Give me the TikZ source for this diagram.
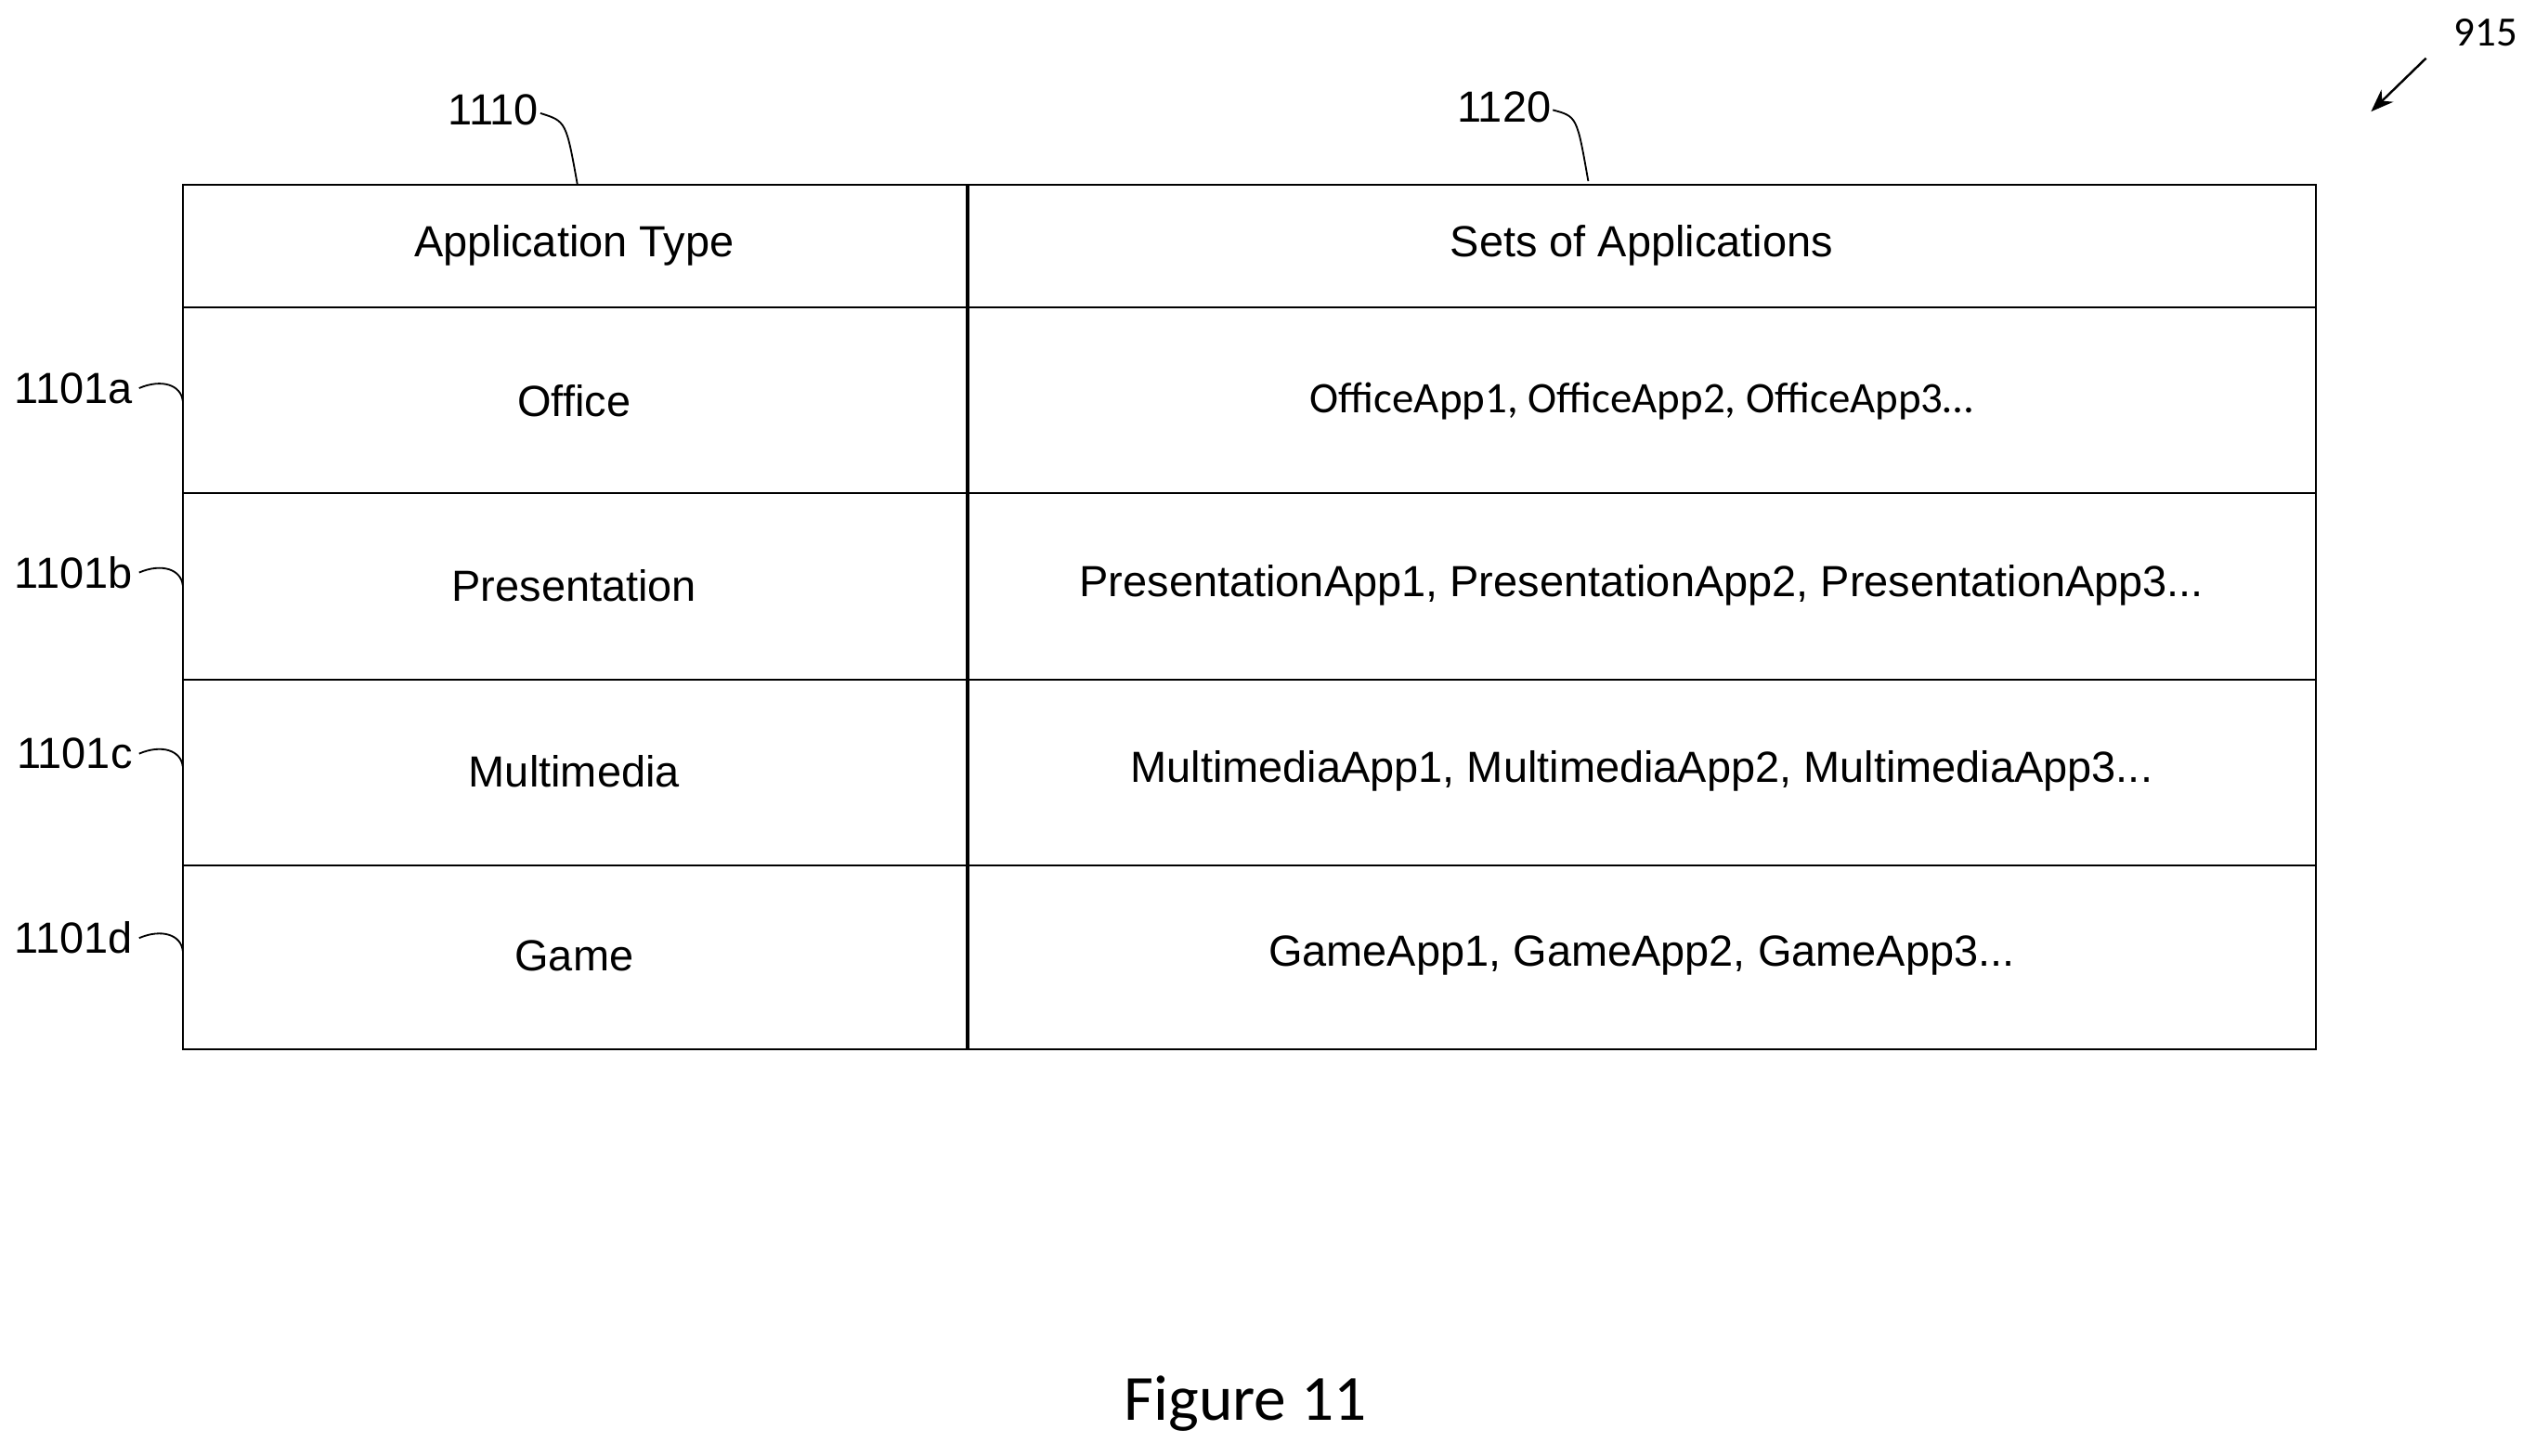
\documentclass[tikz,border=0pt]{standalone}
\usepackage{fontspec}
\setmainfont{Liberation Sans}
\newfontfamily\carlitofont{Carlito}
\usetikzlibrary{arrows.meta}
\begin{document}
\begin{tikzpicture}[x=0.3mm,y=-0.3mm,
  cell/.style={font=\fontsize{23}{26}\selectfont},
  lbl/.style={font=\fontsize{23}{26}\selectfont},
  lead/.style={line width=0.9pt}]
\useasboundingbox (0,0) rectangle (1568,900);
\draw[line width=1pt] (113,114) rectangle (1432,649);
\foreach \y in {190,305,420,535} \draw[line width=1pt] (113,\y) -- (1432,\y);
\draw[line width=2pt] (598,114) -- (598,649);
\node[cell] (h1) at (355,152) {Application Type};
\node[cell] (h2) at (1015,152) {Sets of Applications};
\node[cell] (r1) at (355,248) {Office};
\node[cell,font=\carlitofont\fontsize{23}{26}\selectfont] (s1) at (1015,248) {OfficeApp1, OfficeApp2, OfficeApp3…};
\node[cell] (r2) at (355,362) {Presentation};
\node[cell] (s2) at (1015,362) {PresentationApp1, PresentationApp2, PresentationApp3...};
\node[cell] (r3) at (355,477) {Multimedia};
\node[cell] (s3) at (1015,477) {MultimediaApp1, MultimediaApp2, MultimediaApp3...};
\node[cell] (r4) at (355,591) {Game};
\node[cell] (s4) at (1015,591) {GameApp1, GameApp2, GameApp3...};
\node[lbl] (l1110) at (305,68) {1110};
\node[lbl] (l1120) at (930,66) {1120};
\coordinate (c1110) at (357,114);
\coordinate (c1120) at (982,112);
\draw[lead] (l1110.east) ++(-3,2) .. controls (350,75) .. (c1110);
\draw[lead] (l1120.east) ++(-3,2) .. controls (975,72) .. (c1120);
\foreach \n/\y in {a/240,b/354,c/466,d/580}{
  \node[lbl,anchor=east] (l\n) at (86,\y) {1101\n};
  \coordinate (e\n) at (113,\y+8);
  \draw[lead] (l\n.east) .. controls (100,\y-6) and (112,\y-2) .. (e\n);
}
\node[font=\carlitofont\fontsize{22}{24}\selectfont] (l915) at (1537,20) {915};
\coordinate (a915) at (1466,69);
\draw[line width=1.2pt,-{Stealth[length=12pt,width=9pt]}] (1500,36) -- (a915);
\node[font=\carlitofont\fontsize{34}{38}\selectfont] (fig) at (770,868) {Figure 11};
\end{tikzpicture}
\end{document}
